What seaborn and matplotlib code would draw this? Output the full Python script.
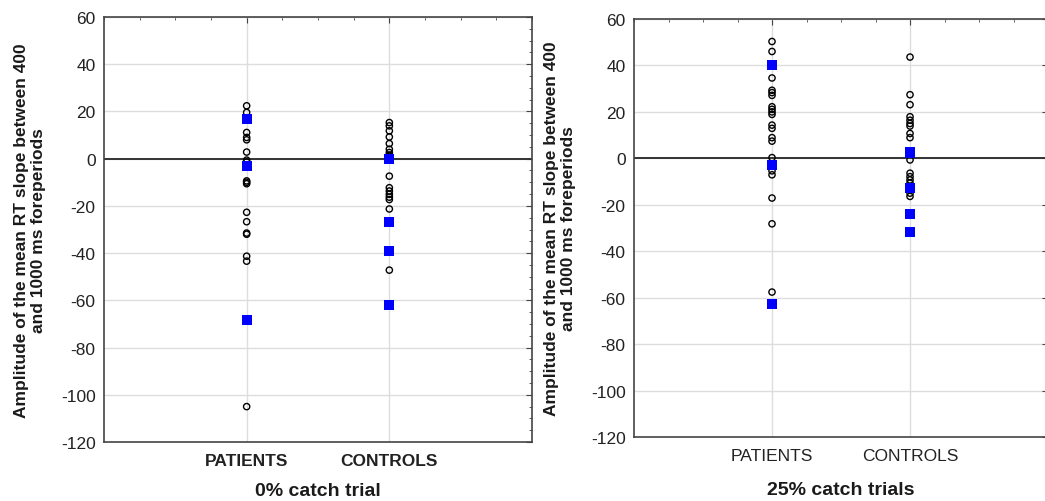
import numpy as np
import pandas as pd
import matplotlib
matplotlib.use("Agg")
import matplotlib.pyplot as plt
from matplotlib.ticker import MultipleLocator
import seaborn as sns

groups = ["PATIENTS", "CONTROLS"]

# 0% catch trial
p0_open = [22.4, 19.6, 11.1, 9.0, 8.0, 2.8, -0.6, -1.4, -9.4, -10.0, -10.6,
           -22.7, -26.7, -31.5, -32.0, -41.3, -43.4, -105.0]
p0_blue = [17.0, -3.0, -68.4]
c0_open = [15.3, 13.9, 11.8, 9.2, 6.4, 4.0, 2.6, 1.5, 1.0, -7.4, -12.3, -13.7,
           -15.1, -16.3, -17.3, -21.3, -47.2]
c0_blue = [0.0, -26.9, -39.2, -61.9]

# 25% catch trials
p25_open = [50.3, 46.0, 34.6, 29.3, 28.3, 27.1, 22.2, 21.1, 20.0, 18.9, 14.3,
            12.9, 8.9, 7.4, 0.3, -5.4, -7.1, -17.1, -28.2, -57.6]
p25_blue = [40.3, -2.9, -62.6]
c25_open = [43.6, 27.4, 23.1, 17.9, 16.4, 15.0, 13.9, 10.7, 8.9, -0.7, -6.4,
            -7.9, -9.3, -10.7, -15.0, -16.4]
c25_blue = [2.9, 2.1, -12.6, -23.9, -31.9]

ylabel = "Amplitude of the mean RT slope between 400\nand 1000 ms foreperiods"


def to_frame(patients, controls):
    return pd.DataFrame({
        "group": ["PATIENTS"] * len(patients) + ["CONTROLS"] * len(controls),
        "value": list(patients) + list(controls),
    })


def draw_panel(ax, open_df, blue_df, title, tick_weight, title_pad):
    sns.stripplot(data=open_df, x="group", y="value", order=groups, jitter=False,
                  color="black", size=4.5, linewidth=1.0, edgecolor="black",
                  ax=ax, zorder=3)
    for coll in ax.collections:
        coll.set_facecolor("none")
    sns.stripplot(data=blue_df, x="group", y="value", order=groups, jitter=False,
                  color="#0000ff", size=6.8, linewidth=0, marker="s",
                  ax=ax, zorder=4)

    ax.set_xlim(-1, 2)
    ax.set_ylim(-120, 60)
    ax.yaxis.set_major_locator(MultipleLocator(20))
    ax.yaxis.set_minor_locator(MultipleLocator(5))
    ax.xaxis.set_minor_locator(MultipleLocator(0.25))
    ax.grid(True, which="major", color="#dddddd", linewidth=1.0, zorder=0)
    ax.set_axisbelow(True)
    ax.axhline(0, color="#333333", linewidth=1.4, zorder=2)

    ax.tick_params(which="both", direction="in", top=True, right=True,
                   colors="#444444", labelcolor="#222222")
    ax.tick_params(which="major", length=4)
    ax.tick_params(which="minor", length=2)
    ax.tick_params(axis="y", labelsize=12.5, pad=6)
    ax.tick_params(axis="x", labelsize=12.5, pad=8)
    for lab in ax.get_xticklabels():
        lab.set_fontweight(tick_weight)

    for sp in ax.spines.values():
        sp.set_color("#444444")
        sp.set_linewidth(1.2)

    ax.set_ylabel(ylabel, fontsize=12.5, fontweight="bold", color="#1a1a1a",
                  linespacing=1.1, labelpad=11)
    ax.set_xlabel(title, fontsize=14, fontweight="bold", color="#1a1a1a",
                  labelpad=title_pad)


sns.set_style("white")
plt.rcParams["font.family"] = ["Liberation Sans", "DejaVu Sans"]
plt.rcParams["axes.unicode_minus"] = False

fig = plt.figure(figsize=(10.45, 5.02), dpi=100)
ax1 = fig.add_axes([0.0995, 0.1175, 0.4096, 0.8466])
ax2 = fig.add_axes([0.6067, 0.1275, 0.3962, 0.8327])

draw_panel(ax1, to_frame(p0_open, c0_open), to_frame(p0_blue, c0_blue),
           "0% catch trial", "bold", 10)
draw_panel(ax2, to_frame(p25_open, c25_open), to_frame(p25_blue, c25_blue),
           "25% catch trials", "normal", 13)

fig.savefig("out.png", dpi=100)
